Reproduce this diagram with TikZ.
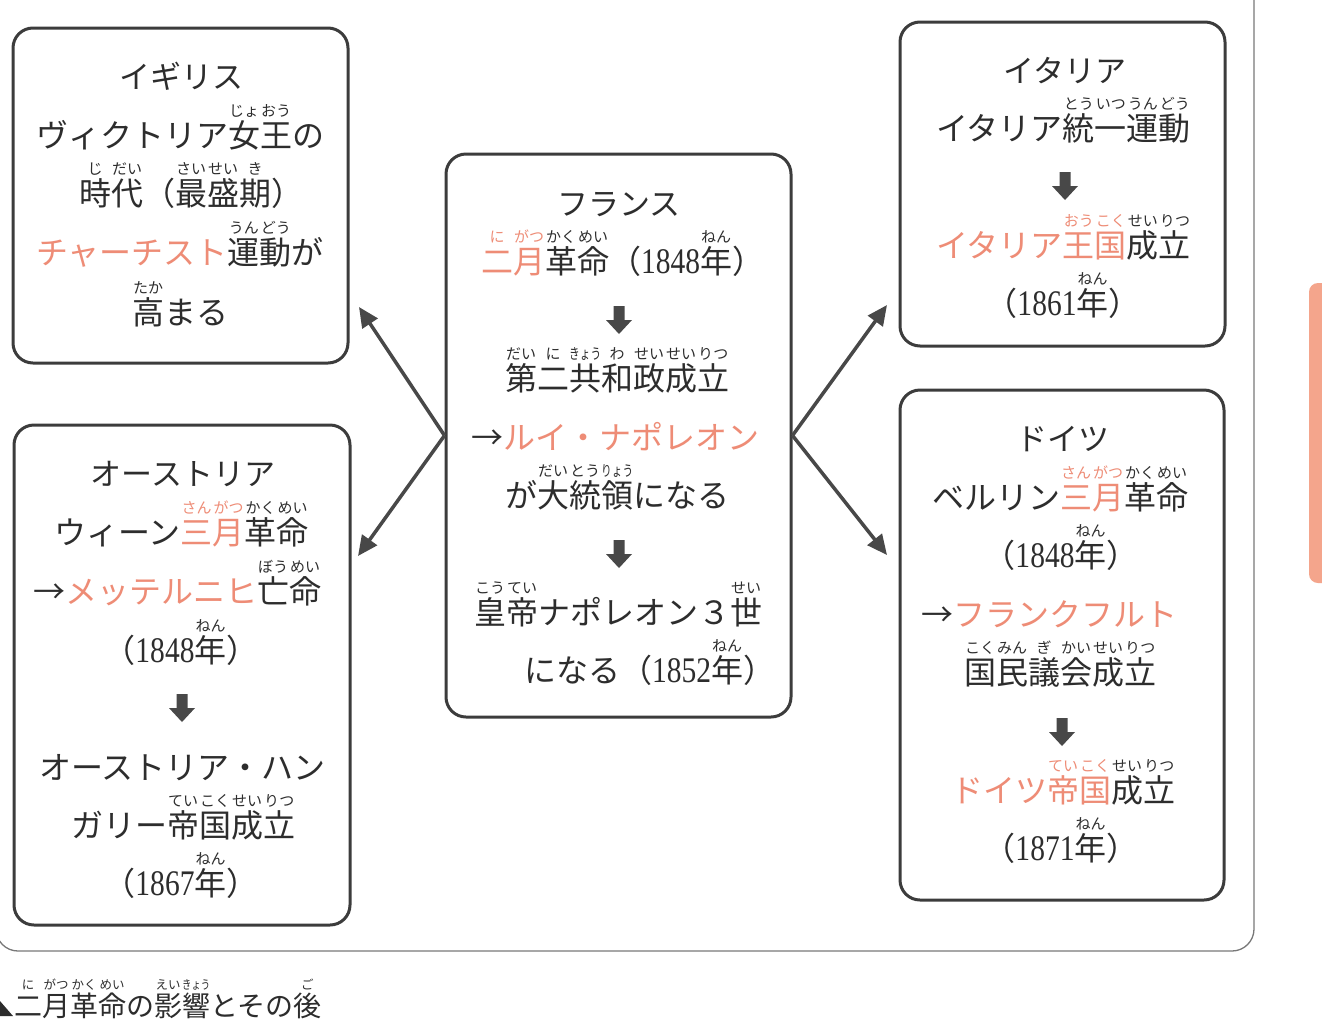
\documentclass[tikz,border=0pt]{standalone}
\usepackage{fontspec}
\usepackage{graphicx}
\setmainfont{Noto Sans CJK JP}
\newfontfamily\numf[FakeStretch=0.82]{Liberation Serif}
\usetikzlibrary{arrows.meta}
\definecolor{ink}{RGB}{45,45,45}
\definecolor{hl}{RGB}{238,140,118}
\definecolor{boxc}{RGB}{60,60,60}
\definecolor{arrowc}{RGB}{72,72,72}
\definecolor{framec}{RGB}{120,120,120}
\definecolor{tabc}{RGB}{244,165,140}
\newlength\rbsz \setlength\rbsz{15pt}
\newsavebox\rbA \newsavebox\rbB \newlength\rbw
\newcommand\rb[2]{\sbox\rbA{#1}\sbox\rbB{\fontsize{\rbsz}{\rbsz}\selectfont #2}\setlength\rbw{\wd\rbA}\ifdim\wd\rbB>\rbw \sbox\rbB{\resizebox{\rbw}{\height}{\usebox\rbB}}\fi\leavevmode\rlap{\hbox to\rbw{\hss\raise0.95em\copy\rbB\hss}}\usebox\rbA}
\newcommand\hl[1]{\textcolor{hl}{#1}}
\newcommand\yr[1]{{\numf\fontsize{36pt}{36pt}\selectfont #1}}
\tikzset{
  box/.style={draw=boxc, line width=3pt, rounded corners=20pt, inner sep=0pt},
  txt/.style={anchor=base, inner sep=0pt, text=ink, font=\fontsize{32pt}{32pt}\selectfont},
  txtw/.style={txt, anchor=base west},
  head/.style={txt, font=\fontsize{31pt}{31pt}\selectfont},
  conn/.style={line width=3.5pt, draw=arrowc, -{Triangle[length=20pt,width=18pt]}},
  blk/.pic={\fill[arrowc] (-5.5,-14) -- (5.5,-14) -- (5.5,0) -- (13,0) -- (0,14) -- (-13,0) -- (-5.5,0) -- cycle;}
}
\begin{document}
\begin{tikzpicture}[x=1pt,y=-1pt]
\useasboundingbox (0,0) rectangle (1322,1034);
\fill[white] (0,0) rectangle (1322,1034);
% outer frame and tab
\draw[framec, line width=1.3pt, rounded corners=22pt] (-4,-20) -- (-4,951) -- (1254,951) -- (1254,-20);
\fill[tabc, rounded corners=9pt] (1309,283) rectangle (1345,583);
% boxes
\node[box, minimum width=335pt, minimum height=335pt] (uk) at (180.5,195.5) {};
\node[box, minimum width=336pt, minimum height=500pt] (at) at (182,675) {};
\node[box, minimum width=345pt, minimum height=563pt] (fr) at (618.5,435.5) {};
\node[box, minimum width=325pt, minimum height=324pt] (it) at (1062.5,184) {};
\node[box, minimum width=324pt, minimum height=510pt] (de) at (1062,645) {};
% connectors
\coordinate (tuk) at (359,307);
\coordinate (tat) at (358,556);
\coordinate (tit) at (887,305);
\coordinate (tde) at (887,555);
\draw[conn] (fr.west) -- (tuk);
\draw[conn] (fr.west) -- (tat);
\draw[conn] (fr.east) -- (tit);
\draw[conn] (fr.east) -- (tde);
% UK
\node[head] (uk1) at (181,88) {イギリス};
\node[txtw] (uk2) at (36,147) {ヴィクトリア\rb{女}{じょ}\rb{王}{おう}の};
\node[txtw] (uk3) at (79,205) {\rb{時}{じ}\rb{代}{だい}（\rb{最}{さい}\rb{盛}{せい}\rb{期}{き}）};
\node[txtw] (uk4) at (36,264) {\hl{チャーチスト}\rb{運}{うん}\rb{動}{どう}が};
\node[txtw] (uk5) at (132,324) {\rb{高}{たか}まる};
% Austria
\node[head] (at1) at (183,485) {オーストリア};
\node[txtw] (at2) at (54,544) {ウィーン\rb{\hl{三}}{\hl{さん}}\rb{\hl{月}}{\hl{がつ}}\rb{革}{かく}\rb{命}{めい}};
\node[txtw] (at3) at (33,603) {→\hl{メッテルニヒ}\rb{亡}{ぼう}\rb{命}{めい}};
\node[txt] (at4) at (181,662) {（\yr{1848}\rb{年}{ねん}）};
\pic at (182,708) {blk};
\node[txtw] (at6) at (39,779) {オーストリア・ハン};
\node[txtw] (at7) at (71,837) {ガリー\rb{帝}{てい}\rb{国}{こく}\rb{成}{せい}\rb{立}{りつ}};
\node[txt] (at8) at (181,895) {（\yr{1867}\rb{年}{ねん}）};
% France
\node[head] (fr1) at (619,215) {フランス};
\node[txtw] (fr2) at (481,273) {\rb{\hl{二}}{\hl{に}}\rb{\hl{月}}{\hl{がつ}}\rb{革}{かく}\rb{命}{めい}（\yr{1848}\rb{年}{ねん}）};
\pic at (619,320) {blk};
\node[txtw] (fr4) at (505,390) {\rb{第}{だい}\rb{二}{に}\rb{共}{きょう}\rb{和}{わ}\rb{政}{せい}\rb{成}{せい}\rb{立}{りつ}};
\node[txtw] (fr5) at (471,449) {→\hl{ルイ・ナポレオン}};
\node[txtw] (fr6) at (505,507) {が\rb{大}{だい}\rb{統}{とう}\rb{領}{りょう}になる};
\pic at (619,554) {blk};
\node[txtw] (fr8) at (474,624) {\rb{皇}{こう}\rb{帝}{てい}ナポレオン３\rb{世}{せい}};
\node[txtw] (fr9) at (524,682) {になる（\yr{1852}\rb{年}{ねん}）};
% Italy
\node[head] (it1) at (1065,82) {イタリア};
\node[txtw] (it2) at (936,140) {イタリア\rb{統}{とう}\rb{一}{いつ}\rb{運}{うん}\rb{動}{どう}};
\pic at (1065,186) {blk};
\node[txtw] (it4) at (936,257) {\hl{イタリア}\rb{\hl{王}}{\hl{おう}}\rb{\hl{国}}{\hl{こく}}\rb{成}{せい}\rb{立}{りつ}};
\node[txt] (it5) at (1063,315) {（\yr{1861}\rb{年}{ねん}）};
% Germany
\node[head] (de1) at (1063,450) {ドイツ};
\node[txtw] (de2) at (932,509) {ベルリン\rb{\hl{三}}{\hl{さん}}\rb{\hl{月}}{\hl{がつ}}\rb{革}{かく}\rb{命}{めい}};
\node[txt] (de3) at (1061,567) {（\yr{1848}\rb{年}{ねん}）};
\node[txtw] (de4) at (921,626) {→\hl{フランクフルト}};
\node[txtw] (de5) at (964,684) {\rb{国}{こく}\rb{民}{みん}\rb{議}{ぎ}\rb{会}{かい}\rb{成}{せい}\rb{立}{りつ}};
\pic at (1062,732) {blk};
\node[txtw] (de7) at (951,802) {\hl{ドイツ}\rb{\hl{帝}}{\hl{てい}}\rb{\hl{国}}{\hl{こく}}\rb{成}{せい}\rb{立}{りつ}};
\node[txt] (de8) at (1061,860) {（\yr{1871}\rb{年}{ねん}）};
% caption
\fill[ink] (-20,1016) -- (13,1016) -- (-3.5,997) -- cycle;
\setlength\rbsz{12.5pt}
\node[txtw, font=\fontsize{28pt}{28pt}\selectfont] (cap) at (14,1016) {\rb{二}{に}\rb{月}{がつ}\rb{革}{かく}\rb{命}{めい}の\rb{影}{えい}\rb{響}{きょう}とその\rb{後}{ご}};
\end{tikzpicture}
\end{document}
